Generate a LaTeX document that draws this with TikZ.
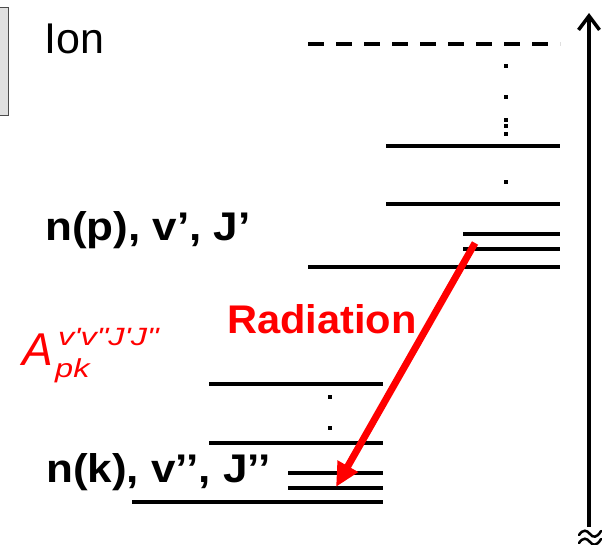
\documentclass[tikz,border=0pt]{standalone}
\usepackage{fontspec}
\setmainfont{Liberation Sans}
\usetikzlibrary{positioning,arrows.meta}
\definecolor{boxgray}{RGB}{224,224,224}
\definecolor{radred}{RGB}{255,0,0}
\tikzset{
  level/.style={line width=4pt},
  lbl/.style={inner sep=0pt,anchor=base west,font=\fontsize{40}{48}\selectfont\bfseries},
  redtxt/.style={inner sep=0pt,anchor=base west,text=radred},
  wave/.style={line width=2.5pt,line cap=round},
}
\newcommand{\wide}[2]{\scalebox{#1}[1]{#2}}
\begin{document}
\begin{tikzpicture} [x=1pt,y=-1pt,>={Straight Barb[length=14pt,width=21pt]}]
%\draw[help lines] (0,0) grid[step=50] (602,544);
\useasboundingbox (0,0) rectangle (602,544);
\filldraw[fill=boxgray,draw=black!70,line width=1pt] (-5,7.5) rectangle (8.3,115);
\node[lbl,font=\fontsize{43}{50}\selectfont] (ion) at (44,53) {Ion};
\node[lbl] (upper) at (45,240) {\wide{1.1}{n(p), v', J'}};
\node[lbl] (lower) at (46,482) {\wide{1.1}{n(k), v'{}', J'{}'}};
\node[redtxt,font=\fontsize{40}{48}\selectfont\bfseries] (rad) at (227,333) {\wide{1.04}{Radiation}};
\node[redtxt,font=\fontsize{46}{50}\selectfont\itshape] (A) at (22,365) {A};
\node[redtxt,font=\fontsize{25}{28}\selectfont\itshape] (Asup) at (58,345)
  {\wide{1.3}{v\textquotesingle v\textquotedbl J\textquotesingle J\textquotedbl}};
\node[redtxt,font=\fontsize{26}{28}\selectfont\itshape] (Asub) at (55,377) {\wide{1.25}{pk}};
% levels
\draw[level,dash pattern=on 16pt off 12pt] (308,44) -- (560,44);
\foreach \xa/\y in {386/146,386/204,463/234,463/249,308/267,
                    209/384,209/443,288/473,288/488,132/502}
  \draw[level] (\xa,\y) -- (\ifnum\y>300 383\else 560\fi,\y);
\foreach \x/\y in {506/66,506/97,506/120,506/126,506/134,506/182,330/397,330/428}
  \fill (\x-2,\y-2) rectangle ++(4,4);
% energy axis with break
\coordinate (base) at (589,527);
\coordinate (top) at (589,13);
\draw[->,line width=3.5pt] (base) -- (top);
\foreach \y in {534,542}
  \draw[wave] (579,\y+1) .. controls (583,\y-5) and (587,\y-4) .. (590,\y)
                          .. controls (593,\y+4) and (597,\y+4) .. (601,\y-3);
% transition
\coordinate (pup) at (475,243);
\coordinate (kdown) at (336,487);
\draw[-{Triangle[length=24pt,width=22pt]},radred,line width=7pt] (pup) -- (kdown);
\end{tikzpicture}
\end{document}
